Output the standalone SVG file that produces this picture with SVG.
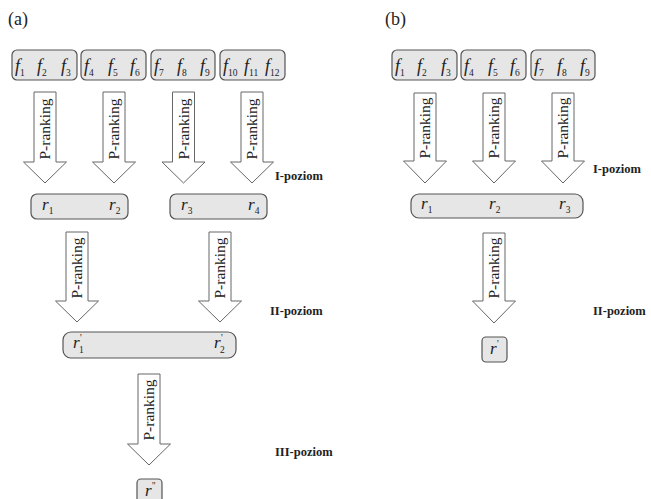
<svg xmlns="http://www.w3.org/2000/svg" width="651" height="499" viewBox="0 0 651 499" font-family="'Liberation Serif','Times New Roman',Times,'DejaVu Serif',serif">
<defs>
<style>
.box{fill:#e6e6e6;stroke:#555;stroke-width:1.2}
.arr{fill:#fff;stroke:#666;stroke-width:1}
text{font-family:"Liberation Serif","Times New Roman",Times,"DejaVu Serif",serif}
.v{font-style:italic;font-size:18px;fill:#222}
.w{font-style:italic;font-size:17px;fill:#222}
.s{font-style:normal;font-size:9.5px;fill:#222}
.pr{font-size:15.5px;fill:#222;text-anchor:middle}
.lvl{font-weight:bold;font-size:12.5px;fill:#222}
.ttl{font-size:18px;fill:#222}
</style>
</defs>
<rect width="651" height="499" fill="#fff"/>
<text class="ttl" x="8" y="25">(a)</text>
<text class="ttl" x="385" y="25">(b)</text>

<g id="a-f123"><rect class="box" x="12" y="50" width="65" height="30" rx="5"/>
<text class="v" x="15" y="72">f<tspan class="s" dy="4">1</tspan></text>
<text class="v" x="37" y="72">f<tspan class="s" dy="4">2</tspan></text>
<text class="v" x="61" y="72">f<tspan class="s" dy="4">3</tspan></text></g>
<g id="a-f456"><rect class="box" x="81" y="50" width="65" height="30" rx="5"/>
<text class="v" x="84" y="72">f<tspan class="s" dy="4">4</tspan></text>
<text class="v" x="108" y="72">f<tspan class="s" dy="4">5</tspan></text>
<text class="v" x="130" y="72">f<tspan class="s" dy="4">6</tspan></text></g>
<g id="a-f789"><rect class="box" x="151" y="50" width="64" height="30" rx="5"/>
<text class="v" x="154" y="72">f<tspan class="s" dy="4">7</tspan></text>
<text class="v" x="177" y="72">f<tspan class="s" dy="4">8</tspan></text>
<text class="v" x="200" y="72">f<tspan class="s" dy="4">9</tspan></text></g>
<g id="a-f101112"><rect class="box" x="220" y="50" width="65" height="30" rx="5"/>
<text class="v" x="223" y="72">f<tspan class="s" dy="4">10</tspan></text>
<text class="v" x="244" y="72">f<tspan class="s" dy="4">11</tspan></text>
<text class="v" x="265" y="72">f<tspan class="s" dy="4">12</tspan></text></g>

<g id="a-r12"><rect class="box" x="31" y="194" width="97" height="25" rx="6"/>
<text class="w" x="42" y="210">r<tspan class="s" dy="4">1</tspan></text>
<text class="w" x="109" y="210">r<tspan class="s" dy="4">2</tspan></text></g>
<g id="a-r34"><rect class="box" x="170" y="194" width="97" height="25" rx="6"/>
<text class="w" x="181" y="210">r<tspan class="s" dy="4">3</tspan></text>
<text class="w" x="248" y="210">r<tspan class="s" dy="4">4</tspan></text></g>

<g id="a-rp"><rect class="box" x="63" y="332" width="173" height="26" rx="8"/>
<text class="w" x="73" y="348">r</text><text class="s" x="80" y="341">'</text><text class="s" x="79" y="353">1</text>
<text class="w" x="214" y="348">r</text><text class="s" x="221" y="341">'</text><text class="s" x="220" y="353">2</text></g>

<g id="a-rpp"><rect class="box" x="137" y="479" width="25" height="26" rx="4"/>
<text class="w" x="145" y="496">r</text><text class="s" x="152" y="489">''</text></g>

<g id="b-f123"><rect class="box" x="392" y="50" width="65" height="30" rx="5"/>
<text class="v" x="395" y="72">f<tspan class="s" dy="4">1</tspan></text>
<text class="v" x="417" y="72">f<tspan class="s" dy="4">2</tspan></text>
<text class="v" x="441" y="72">f<tspan class="s" dy="4">3</tspan></text></g>
<g id="b-f456"><rect class="box" x="461" y="50" width="65" height="30" rx="5"/>
<text class="v" x="464" y="72">f<tspan class="s" dy="4">4</tspan></text>
<text class="v" x="488" y="72">f<tspan class="s" dy="4">5</tspan></text>
<text class="v" x="510" y="72">f<tspan class="s" dy="4">6</tspan></text></g>
<g id="b-f789"><rect class="box" x="531" y="50" width="64" height="30" rx="5"/>
<text class="v" x="534" y="72">f<tspan class="s" dy="4">7</tspan></text>
<text class="v" x="557" y="72">f<tspan class="s" dy="4">8</tspan></text>
<text class="v" x="580" y="72">f<tspan class="s" dy="4">9</tspan></text></g>

<g id="b-r123"><rect class="box" x="411" y="194" width="172" height="24" rx="8"/>
<text class="w" x="421" y="209">r<tspan class="s" dy="4">1</tspan></text>
<text class="w" x="489" y="209">r<tspan class="s" dy="4">2</tspan></text>
<text class="w" x="559" y="209">r<tspan class="s" dy="4">3</tspan></text></g>

<g id="b-rp"><rect class="box" x="482" y="337" width="25" height="25" rx="4"/>
<text class="w" x="490" y="354">r</text><text class="s" x="497" y="347">'</text></g>

<g id="connectors">
<path class="arr" d="M34,92 H56 V162 H66.5 L45,183 L23.5,162 H34 Z"/>
<path class="arr" d="M103,92 H125 V162 H135.5 L114,183 L92.5,162 H103 Z"/>
<path class="arr" d="M172.5,92 H194.5 V162 H205 L183.5,183 L162,162 H172.5 Z"/>
<path class="arr" d="M241,92 H263 V162 H273.5 L252,183 L230.5,162 H241 Z"/>
<path class="arr" d="M66,232 H88 V301 H98.5 L77,322 L55.5,301 H66 Z"/>
<path class="arr" d="M209,232 H231 V301 H241.5 L220,322 L198.5,301 H209 Z"/>
<path class="arr" d="M138,374 H160 V444 H170.5 L149,465 L127.5,444 H138 Z"/>
<path class="arr" d="M414,93 H436 V161 H446.5 L425,183 L403.5,161 H414 Z"/>
<path class="arr" d="M483,93 H505 V161 H515.5 L494,183 L472.5,161 H483 Z"/>
<path class="arr" d="M552,93 H574 V161 H584.5 L563,183 L541.5,161 H552 Z"/>
<path class="arr" d="M483,233 H505 V301 H515.5 L494,323 L472.5,301 H483 Z"/>
<text class="pr" transform="translate(50,129) rotate(-90)">P-ranking</text>
<text class="pr" transform="translate(119,129) rotate(-90)">P-ranking</text>
<text class="pr" transform="translate(188.5,129) rotate(-90)">P-ranking</text>
<text class="pr" transform="translate(257,129) rotate(-90)">P-ranking</text>
<text class="pr" transform="translate(82,268) rotate(-90)">P-ranking</text>
<text class="pr" transform="translate(225,268) rotate(-90)">P-ranking</text>
<text class="pr" transform="translate(154,410) rotate(-90)">P-ranking</text>
<text class="pr" transform="translate(430,128) rotate(-90)">P-ranking</text>
<text class="pr" transform="translate(499,128) rotate(-90)">P-ranking</text>
<text class="pr" transform="translate(568,128) rotate(-90)">P-ranking</text>
<text class="pr" transform="translate(499,268) rotate(-90)">P-ranking</text>
</g>

<text class="lvl" x="275" y="180">I-poziom</text>
<text class="lvl" x="270" y="315">II-poziom</text>
<text class="lvl" x="275" y="456">III-poziom</text>
<text class="lvl" x="593" y="173">I-poziom</text>
<text class="lvl" x="593" y="315">II-poziom</text>
</svg>
